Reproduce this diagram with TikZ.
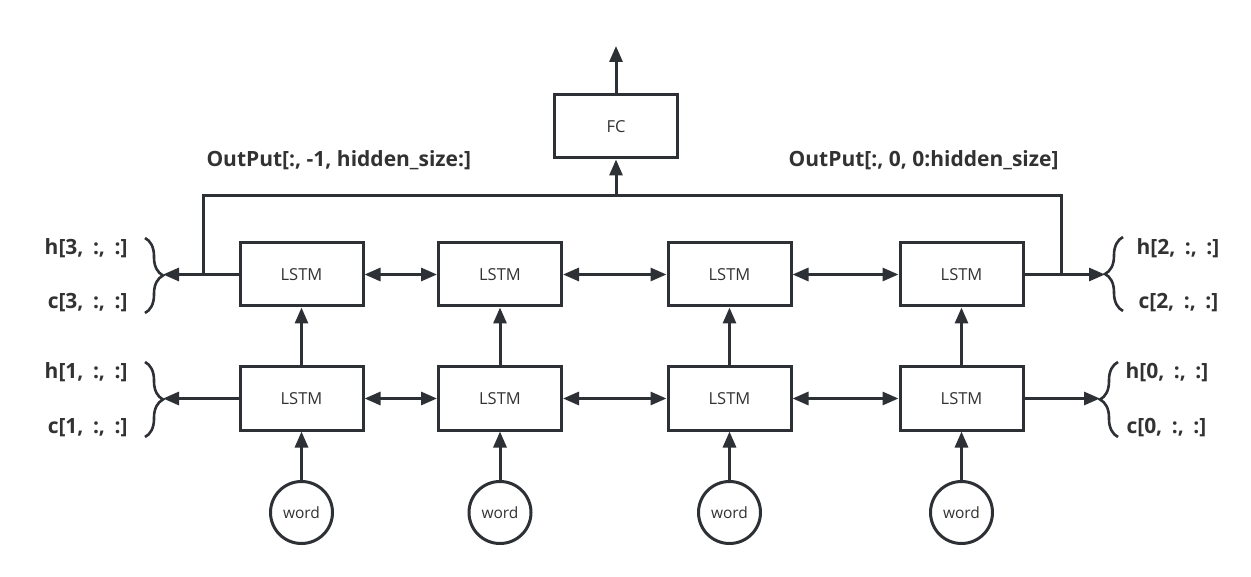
\documentclass[tikz,border=0pt]{standalone}
\usepackage{fontspec}
\setmainfont{Open Sans}
\usetikzlibrary{arrows.meta,decorations.pathreplacing}
\definecolor{ink}{RGB}{45,48,52}
\definecolor{txt}{RGB}{50,50,50}
\newcommand{\gapsp}{\hspace{0.45em}}

\begin{document}
\begin{tikzpicture}[
     x = 1pt, y = -1pt, % pixel grid, y downwards
     > = {Triangle[length=16pt,width=13pt]}, % arrow head style
     line width = 3pt,
     draw = ink,
     color = ink
 ]

 \tikzstyle{lstm}=[
     draw = ink,
     line width = 3pt,
     fill = white,
     minimum width = 123pt,
     minimum height = 63pt,
     text = txt,
     font = \fontsize{16.5}{19}\selectfont
 ]
 \tikzstyle{word}=[
     draw = ink,
     circle,
     line width = 3pt,
     minimum size = 62pt,
     inner sep = 0pt,
     text = txt,
     font = \fontsize{15.5}{18}\selectfont
 ]
 \tikzstyle{lbl}=[
     text = txt,
     inner sep = 0pt,
     font = \bfseries\fontsize{21}{24}\selectfont
 ]
 \tikzstyle{mybrace}=[
     decorate,
     decoration = {brace, amplitude = 18pt, aspect = 0.5},
     line width = 2.6pt
 ]

 \useasboundingbox (0,0) rectangle (1251,577);

 % LSTM cells, upper and lower layer
 \node[lstm] (u1) at (301.5,274.5) {LSTM};
 \node[lstm] (u2) at (500,274.5) {LSTM};
 \node[lstm] (u3) at (729.5,274.5) {LSTM};
 \node[lstm] (u4) at (961.5,274.5) {LSTM};
 \node[lstm] (l1) at (301.5,398.5) {LSTM};
 \node[lstm] (l2) at (500,398.5) {LSTM};
 \node[lstm] (l3) at (729.5,398.5) {LSTM};
 \node[lstm] (l4) at (961.5,398.5) {LSTM};

 % inputs
 \node[word] (w1) at (301.5,512.5) {word};
 \node[word] (w2) at (500,512.5) {word};
 \node[word] (w3) at (729.5,512.5) {word};
 \node[word] (w4) at (961.5,512.5) {word};

 \node[lstm] (fc) at (616,126.5) {FC};
 \coordinate (out) at (616,46);

 \foreach \i in {1,...,4} {
   \path[->] (w\i) edge (l\i.south);
   \path[->] (l\i) edge (u\i.south);
 }
 \foreach \i/\j in {1/2,2/3,3/4} {
   \path[<->] (u\i) edge (u\j);
   \path[<->] (l\i) edge (l\j);
 }

 % output bus into FC
 \coordinate (busL) at (203,196);
 \coordinate (busR) at (1061,196);
 \draw (busL |- u1.west) -- (busL) -- (busR) -- (busR |- u4.east);
 \path[->] (fc.south |- busL) edge (fc.south);
 \path[->] (fc) edge (out);

 \node[lbl, anchor=west] (outL) at (205,160) {OutPut[:, -1, hidden\_size:]};
 \node[lbl, anchor=east] (outR) at (1060,160) {OutPut[:, 0, 0:hidden\_size]};

 % final states with braces
 \coordinate (bu1) at (163,274.5);
 \coordinate (bl1) at (163,398.5);
 \coordinate (bu4) at (1105,274.5);
 \coordinate (bl4) at (1100,398.5);
 \path[->] (u1) edge (bu1);
 \path[->] (l1) edge (bl1);
 \path[->] (u4) edge (bu4);
 \path[->] (l4) edge (bl4);

 \draw[mybrace] (145,238) -- (145,313);
 \draw[mybrace] (145,362) -- (145,437);
 \draw[mybrace] (1123,311) -- (1123,237);
 \draw[mybrace] (1118,437) -- (1118,362);

 \node[lbl, anchor=east] (h3) at (129,248) {h[3,\gapsp:,\gapsp:]};
 \node[lbl, anchor=east] (c3) at (129,303) {c[3,\gapsp:,\gapsp:]};
 \node[lbl, anchor=east] (h1) at (129,372) {h[1,\gapsp:,\gapsp:]};
 \node[lbl, anchor=east] (c1) at (129,428) {c[1,\gapsp:,\gapsp:]};
 \node[lbl, anchor=west] (h2) at (1135,248) {h[2,\gapsp:,\gapsp:]};
 \node[lbl, anchor=west] (c2) at (1137,303) {c[2,\gapsp:,\gapsp:]};
 \node[lbl, anchor=west] (h0) at (1124,372) {h[0,\gapsp:,\gapsp:]};
 \node[lbl, anchor=west] (c0) at (1125,428) {c[0,\gapsp:,\gapsp:]};
\end{tikzpicture}
\end{document}
